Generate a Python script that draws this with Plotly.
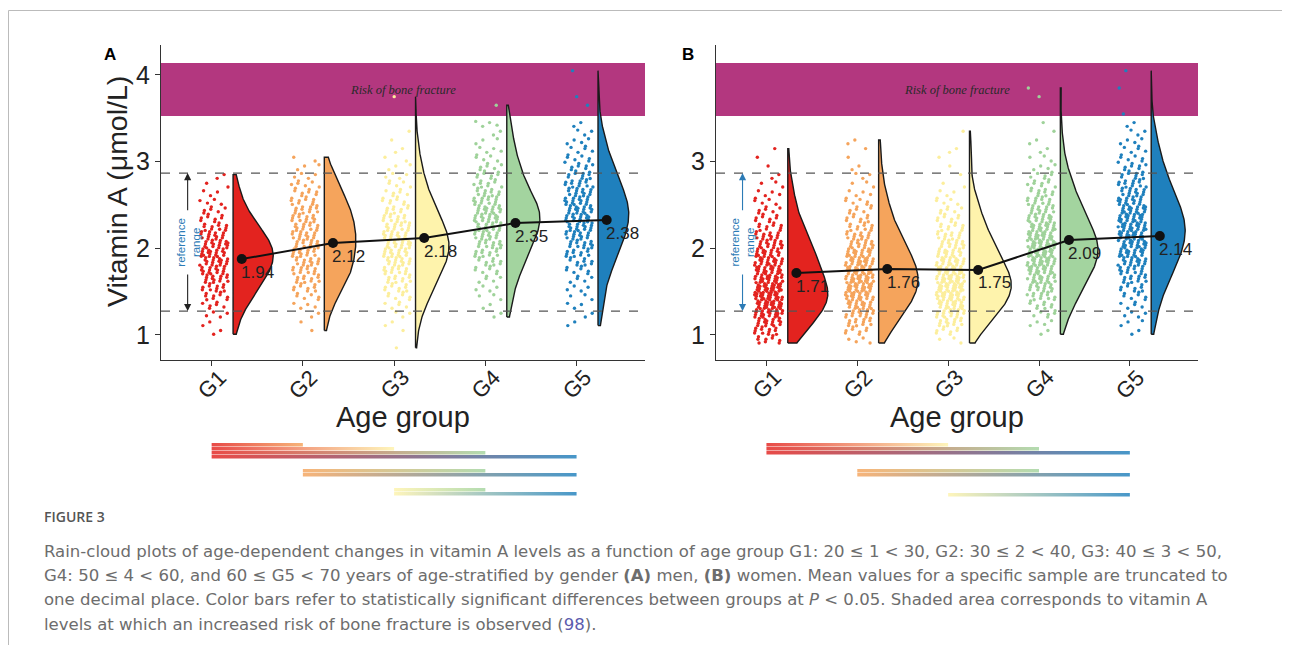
import numpy as np
import plotly.graph_objects as go

# page offset: the browser places the figure 8px from the top-left corner
OFF = 8
W, H = 1274, 637

groups = ["G1", "G2", "G3", "G4", "G5"]
group_colors = ["#E3231F", "#F5A45C", "#FEF3AC", "#A3D49F", "#1F80BD"]
point_colors = ["#E3231F", "#F5A45C", "#FCEE9C", "#9FD29A", "#1F80BD"]

# counts of observations per 0.1-wide bin, first bin starts at 0.8 (0.8, 0.9, 1.0, ...)
BIN_START = 0.8
BIN_STEP = 0.1
men_g1 = [0, 0, 2, 2, 4, 6, 9, 11, 14, 16, 17, 18, 17, 14, 11, 8, 6, 4, 3, 2, 2]
men_g2 = [0, 0, 1, 1, 2, 4, 6, 9, 11, 12, 13, 14, 14, 14, 13, 13, 12, 10, 8, 6, 4, 3, 2]
men_g3 = [1, 0, 1, 2, 3, 5, 7, 9, 11, 13, 15, 16, 17, 16, 14, 12, 10, 8, 6, 5, 4, 3, 2, 2, 1, 1, 0, 0, 0, 1]
men_g4 = [0, 0, 0, 0, 2, 2, 3, 4, 5, 7, 9, 11, 13, 14, 16, 17, 17, 14, 11, 9, 8, 6, 5, 4, 3, 2, 4, 0, 1]
men_g5 = [0, 0, 0, 2, 2, 3, 3, 4, 5, 7, 9, 11, 13, 14, 16, 17, 17, 16, 14, 12, 10, 8, 6, 5, 4, 3, 2, 0, 1, 1, 0, 0, 1]

women_g1 = [0, 9, 12, 17, 22, 26, 28, 27, 24, 22, 20, 18, 16, 13, 10, 8, 6, 5, 4, 3, 2, 1, 1, 1]
women_g2 = [0, 4, 8, 12, 15, 19, 22, 24, 25, 24, 22, 19, 16, 13, 11, 9, 7, 6, 4, 3, 3, 2, 1, 1, 2]
women_g3 = [0, 3, 8, 13, 17, 21, 24, 26, 25, 23, 20, 17, 15, 12, 10, 8, 6, 5, 3, 2, 1, 1, 1, 2, 0, 1]
women_g4 = [0, 0, 2, 4, 6, 9, 12, 15, 18, 21, 23, 25, 25, 23, 20, 17, 14, 12, 10, 8, 6, 4, 3, 2, 2, 1, 1, 0, 0, 1, 1]
women_g5 = [0, 0, 2, 3, 4, 5, 7, 9, 12, 14, 17, 19, 21, 22, 22, 21, 19, 17, 14, 12, 10, 8, 6, 5, 4, 3, 2, 1, 0, 0, 1, 0, 1]

men_mean_dots = [1.875, 2.06, 2.118, 2.291, 2.326]
men_mean_labels = ["1.94", "2.12", "2.18", "2.35", "2.38"]
women_mean_dots = [1.714, 1.76, 1.749, 2.095, 2.141]
women_mean_labels = ["1.71", "1.76", "1.75", "2.09", "2.14"]

REF_LO, REF_HI = 1.275, 2.868
RISK_LO, RISK_HI = 3.526, 4.138

men_sig_pairs = [(1, 2), (1, 3), (1, 4), (1, 5), (2, 4), (2, 5), (3, 4), (3, 5)]
women_sig_pairs = [(1, 3), (1, 4), (1, 5), (2, 4), (2, 5), (3, 5)]

# ---------------------------------------------------------------- style
FONT = "Liberation Sans, Arial, sans-serif"
TXT = "#222222"
XR = [0.445, 5.75]
YR = [0.71, 4.346]
PT_CENTER, PT_HALF = 0.025, 0.155
VIOLIN_BASE = 0.235
MEAN_OFF = 0.33
# deterministic low-discrepancy (R2 / Kronecker) constants for placement inside a bin
A1, A2, A3 = 0.7548776662, 0.5698402910, 0.6180339887


def expand(counts):
    """Observations of every bin, spread inside the bin, plus a horizontal jitter slot."""
    vals, slots = [], []
    for k, c in enumerate(counts):
        lo = BIN_START + k * BIN_STEP
        for j in range(c):
            vals.append(lo + BIN_STEP * ((0.5 + j * A2) % 1.0))
            slots.append((0.5 + j * A1 + k * A3) % 1.0)
    return np.array(vals), np.array(slots)


def kde(vals, grid):
    n = len(vals)
    sd = np.std(vals, ddof=1)
    q75, q25 = np.percentile(vals, [75, 25])
    bw = 0.9 * min(sd, (q75 - q25) / 1.34) * n ** -0.2
    z = (grid[:, None] - vals[None, :]) / bw
    return np.exp(-0.5 * z * z).sum(axis=1) / (n * bw * np.sqrt(2 * np.pi))


def py(px):
    return 1 - (px - OFF) / H


def pxx(px):
    return (px - OFF) / W


panels = [
    dict(counts=[men_g1, men_g2, men_g3, men_g4, men_g5], dots=men_mean_dots,
         labels=men_mean_labels, pairs=men_sig_pairs, xa="x", ya="y", bxa="x3", bya="y3",
         px0=161, px1=645, yticks=[1, 2, 3, 4], arrow_color="#222222", letter="A",
         letter_x=110, vmax=0.44, block_tops={1: 443, 2: 469, 3: 488}),
    dict(counts=[women_g1, women_g2, women_g3, women_g4, women_g5], dots=women_mean_dots,
         labels=women_mean_labels, pairs=women_sig_pairs, xa="x2", ya="y2", bxa="x4", bya="y4",
         px0=716, px1=1198, yticks=[1, 2, 3], arrow_color="#2C7BB6", letter="B",
         letter_x=688, vmax=0.46, block_tops={1: 443, 2: 469, 3: 493}),
]

fig = go.Figure()
shapes = []
annotations = []

for p in panels:
    xa, ya = p["xa"], p["ya"]
    expanded = [expand(c) for c in p["counts"]]
    samples = [e[0] for e in expanded]
    grids = [np.linspace(v.min(), v.max(), 200) for v in samples]
    dens = [kde(v, g) for v, g in zip(samples, grids)]
    dmax = max(d.max() for d in dens)

    # jittered points
    for gi, (vals, slots) in enumerate(expanded):
        xs = gi + 1 + PT_CENTER + PT_HALF * (2 * slots - 1)
        fig.add_trace(go.Scatter(x=xs, y=vals, mode="markers", xaxis=xa, yaxis=ya,
                                 marker=dict(size=3.4, color=point_colors[gi], line=dict(width=0)),
                                 hoverinfo="y", showlegend=False))
    # half violins
    for gi, (g, d) in enumerate(zip(grids, dens)):
        base = gi + 1 + VIOLIN_BASE
        w = p["vmax"] * d / dmax
        xs = np.concatenate([[base], base + w, [base, base]])
        ys = np.concatenate([[g[0]], g, [g[-1], g[0]]])
        fig.add_trace(go.Scatter(x=xs, y=ys, mode="lines", fill="toself",
                                 fillcolor=group_colors[gi], xaxis=xa, yaxis=ya,
                                 line=dict(color="#1a1a1a", width=1.4), hoverinfo="skip",
                                 showlegend=False))
    # means
    mx = [i + 1 + MEAN_OFF for i in range(5)]
    fig.add_trace(go.Scatter(x=mx, y=p["dots"], mode="lines+markers",
                             marker=dict(size=10, color="#111111"),
                             line=dict(color="#111111", width=2),
                             xaxis=xa, yaxis=ya, showlegend=False))
    for x_, y_, t_ in zip(mx, p["dots"], p["labels"]):
        annotations.append(dict(xref=xa, yref=ya, x=x_, y=y_, text=t_, showarrow=False,
                                xanchor="center", yanchor="middle", xshift=16, yshift=-13,
                                font=dict(size=17, color=TXT, family=FONT)))

    # group labels (rotated)
    for i, gname in enumerate(groups):
        annotations.append(dict(xref=xa, yref="paper", x=i + 1, y=py(384), text=gname,
                                textangle=-45, showarrow=False, xanchor="center",
                                yanchor="middle", font=dict(size=22, color=TXT, family=FONT)))

    # significance colour bars
    rank = {}
    for (i, j) in p["pairs"]:
        r = rank.get(i, 0)
        rank[i] = r + 1
        y0 = p["block_tops"][i] + 4 * r
        y1 = y0 + 3.5
        fig.add_trace(go.Scatter(x=[i, j, j, i, i], y=[y0, y0, y1, y1, y0], mode="lines",
                                 fill="toself", line=dict(width=0), opacity=0.82,
                                 fillgradient=dict(type="horizontal",
                                                   colorscale=[[0, group_colors[i - 1]],
                                                               [1, group_colors[j - 1]]]),
                                 xaxis=p["bxa"], yaxis=p["bya"], hoverinfo="skip",
                                 showlegend=False))

    xdom = [pxx(p["px0"]), pxx(p["px1"])]
    n = "" if xa == "x" else xa[1:]
    bn = p["bxa"][1:]
    fig.update_layout(**{
        f"xaxis{n}": dict(domain=xdom, range=XR, anchor=ya, tickvals=[1, 2, 3, 4, 5],
                          showticklabels=False,
                          ticks="outside", ticklen=5, tickcolor="#333", tickwidth=1.2,
                          showline=True, linecolor="#333", linewidth=1.4,
                          showgrid=False, zeroline=False),
        f"yaxis{n}": dict(domain=[py(360), py(45)], range=YR, anchor=xa,
                          tickvals=p["yticks"], ticktext=[str(t) for t in p["yticks"]],
                          tickfont=dict(size=25, color=TXT, family=FONT),
                          ticks="outside", ticklen=5, tickcolor="#333", tickwidth=1.2,
                          showline=True, linecolor="#333", linewidth=1.4,
                          showgrid=False, zeroline=False),
        f"xaxis{bn}": dict(domain=xdom, range=XR, anchor=p["bya"], visible=False),
        f"yaxis{bn}": dict(domain=[py(500), py(438)], range=[500, 438], anchor=p["bxa"],
                           visible=False),
    })

    # risk band, reference lines
    shapes.append(dict(type="rect", xref=f"{xa} domain", yref=ya, x0=0, x1=1,
                       y0=RISK_LO, y1=RISK_HI, fillcolor="#B3377F", line=dict(width=0),
                       layer="below"))
    for yv in (REF_HI, REF_LO):
        shapes.append(dict(type="line", xref=f"{xa} domain", yref=ya, x0=0, x1=1,
                           y0=yv, y1=yv, line=dict(color="#555555", width=1.2, dash="dash"),
                           layer="above"))
    annotations.append(dict(xref=f"{xa} domain", yref=ya, x=0.5, y=(RISK_LO + RISK_HI) / 2,
                            text="<i>Risk of bone fracture</i>", showarrow=False,
                            xanchor="center", yanchor="middle",
                            font=dict(family="Liberation Serif, serif", size=12.5,
                                      color="#2a2a2a")))
    # reference range arrows + label
    ax_x = 0.737
    for tail, head in ((2.42, REF_HI), (1.714, REF_LO)):
        annotations.append(dict(xref=xa, yref=ya, axref=xa, ayref=ya, x=ax_x, y=head,
                                ax=ax_x, ay=tail, text="", showarrow=True, arrowhead=2,
                                arrowsize=1.3, arrowwidth=1.1, arrowcolor=p["arrow_color"],
                                standoff=0, startstandoff=0))
    annotations.append(dict(xref=xa, yref=ya, x=ax_x, y=(REF_LO + REF_HI) / 2,
                            text="reference<br>range", textangle=-90, showarrow=False,
                            xanchor="center", yanchor="middle",
                            font=dict(family=FONT, size=11.5, color="#2C7BB6")))
    # titles and letters
    annotations.append(dict(xref="paper", yref="paper", x=pxx((p["px0"] + p["px1"]) / 2),
                            y=py(417), text="Age group", showarrow=False,
                            xanchor="center", yanchor="middle",
                            font=dict(family=FONT, size=29, color=TXT)))
    annotations.append(dict(xref="paper", yref="paper", x=pxx(p["letter_x"]), y=py(54),
                            text=f"<b>{p['letter']}</b>", showarrow=False,
                            xanchor="center", yanchor="middle",
                            font=dict(family=FONT, size=17, color="#000")))

annotations.append(dict(xref="paper", yref="paper", x=pxx(117), y=py(192),
                        text="Vitamin A (μmol/L)", textangle=-90, showarrow=False,
                        xanchor="center", yanchor="middle",
                        font=dict(family=FONT, size=28.5, color=TXT)))

# caption
CAP_FONT = "DejaVu Sans, sans-serif"
annotations.append(dict(xref="paper", yref="paper", x=pxx(42), y=py(516), xanchor="left",
                        yanchor="middle", text="FIGURE 3", showarrow=False,
                        font=dict(family="Open Sans, sans-serif", size=14, color="#555555",
                                  weight=600)))
caption_lines = [
    "Rain-cloud plots of age-dependent changes in vitamin A levels as a function of age group "
    "G1: 20 ≤ 1 < 30, G2: 30 ≤ 2 < 40, G3: 40 ≤ 3 < 50,",
    "G4: 50 ≤ 4 < 60, and 60 ≤ G5 < 70 years of age-stratified by gender <b>(A)</b> men, "
    "<b>(B)</b> women. Mean values for a specific sample are truncated to",
    "one decimal place. Color bars refer to statistically significant differences between "
    "groups at <i>P</i> < 0.05. Shaded area corresponds to vitamin A",
    "levels at which an increased risk of bone fracture is observed "
    "(<span style='color:#5B5BAE'>98</span>).",
]
for k, line in enumerate(caption_lines):
    annotations.append(dict(xref="paper", yref="paper", x=pxx(42), y=py(551 + 24.4 * k),
                            xanchor="left", yanchor="middle", text=line, showarrow=False,
                            font=dict(family=CAP_FONT, size=16.55, color="#6d6d6d")))

# figure frame
shapes.append(dict(type="line", xref="paper", yref="paper", x0=pxx(8.5), x1=1, y0=py(10.5),
                   y1=py(10.5), line=dict(color="#BBBBBB", width=1)))
shapes.append(dict(type="line", xref="paper", yref="paper", x0=pxx(8.5), x1=pxx(8.5),
                   y0=py(10.5), y1=py(645), line=dict(color="#BBBBBB", width=1)))

fig.update_layout(width=W, height=H, margin=dict(l=0, r=0, t=0, b=0), autosize=False,
                  paper_bgcolor="white", plot_bgcolor="rgba(0,0,0,0)", showlegend=False,
                  shapes=shapes, annotations=annotations)

fig.write_html("out.html")
